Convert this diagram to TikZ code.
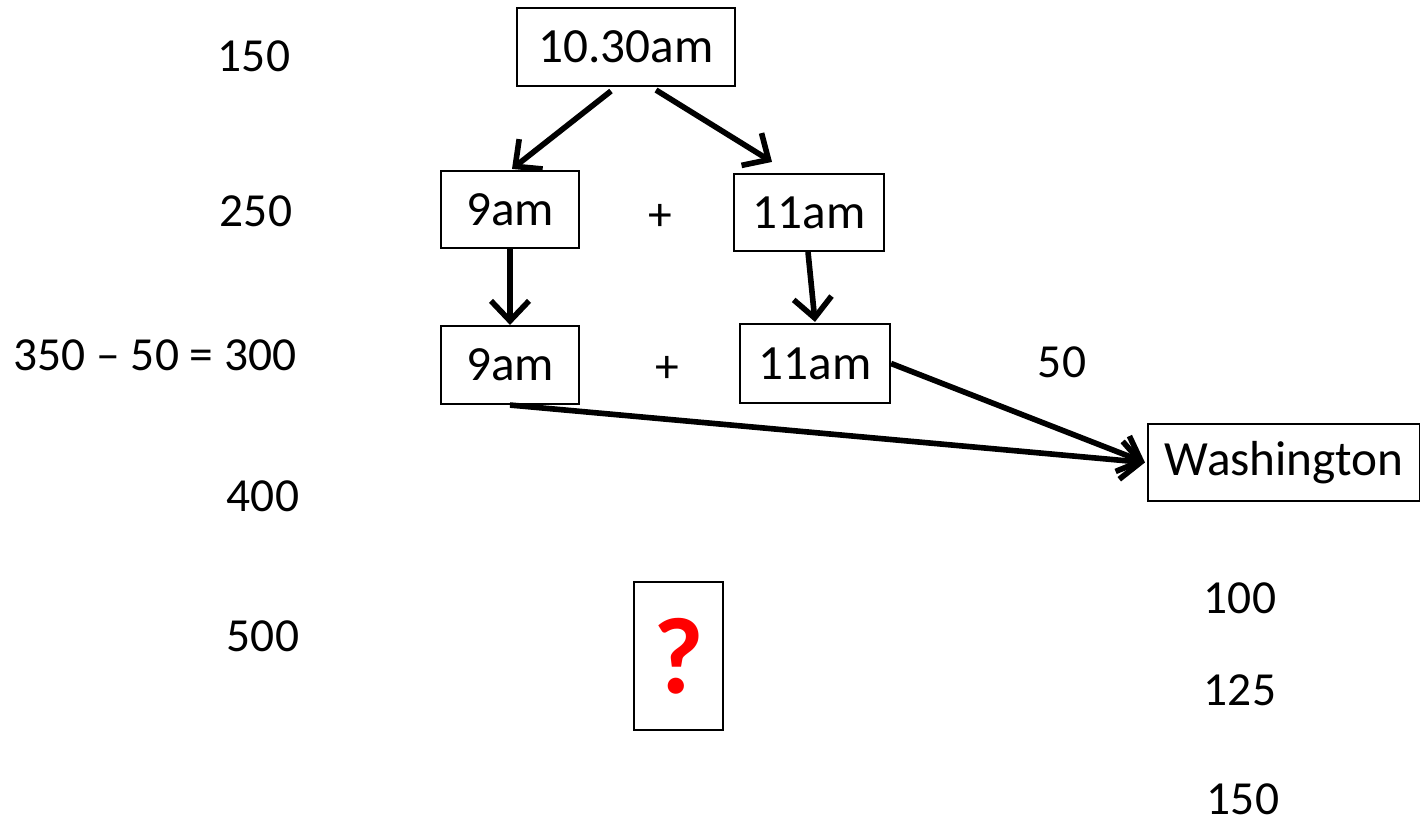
\documentclass[tikz,border=0pt]{standalone}
\usepackage{fontspec}
\setmainfont{Carlito}
\usepackage{tikz}
\usetikzlibrary{arrows.meta}

\begin{document}
\begin{tikzpicture}[
        timebox/.style={draw, line width=0.6pt, inner sep=0pt, font=\fontsize{14}{17}\selectfont},
        sidenum/.style={font=\fontsize{13.5}{16}\selectfont, inner sep=0pt},
        link/.style={line width=1.6pt, -{Straight Barb[length=2mm,width=3.8mm,line width=1.6pt]}}
    ]
        \useasboundingbox (0,0) rectangle (14.2,-8.21);

        % time boxes
        \node[timebox, minimum width=2.18cm, minimum height=0.78cm] (top) at (6.26,-0.47) {10.30am};
        \node[timebox, minimum width=1.38cm, minimum height=0.77cm] (nineA) at (5.10,-2.095) {9am};
        \node[timebox, minimum width=1.50cm, minimum height=0.77cm] (elevenA) at (8.09,-2.125) {11am};
        \node[timebox, minimum width=1.38cm, minimum height=0.78cm] (nineB) at (5.10,-3.65) {9am};
        \node[timebox, minimum width=1.50cm, minimum height=0.79cm] (elevenB) at (8.15,-3.635) {11am};
        \node[timebox, minimum width=2.72cm, minimum height=0.77cm] (wash) at (12.84,-4.625) {Washington};
        \node[draw, line width=0.6pt, minimum width=0.89cm, minimum height=1.48cm, inner sep=0pt,
              text=red, font=\fontsize{31}{36}\selectfont\bfseries] (qbox) at (6.785,-6.56) {?};

        \node[sidenum] (plusA) at (6.60,-2.17) {+};
        \node[sidenum] (plusB) at (6.67,-3.69) {+};

        % numbers on the left
        \node[sidenum] (nA) at (2.54,-0.56) {150};
        \node[sidenum] (nB) at (2.56,-2.11) {250};
        \node[sidenum] (nC) at (1.55,-3.55) {350 – 50 = 300};
        \node[sidenum] (nD) at (2.63,-4.96) {400};
        \node[sidenum] (nE) at (2.63,-6.36) {500};

        % numbers on the right
        \node[sidenum] (rA) at (10.62,-3.62) {50};
        \node[sidenum] (rB) at (12.40,-5.98) {100};
        \node[sidenum] (rC) at (12.40,-6.90) {125};
        \node[sidenum] (rD) at (12.43,-7.99) {150};

        % arrows
        \draw[link] ([xshift=-0.15cm,yshift=-0.04cm]top.south) -- ([xshift=0.02cm,yshift=0.01cm]nineA.north);
        \draw[link] ([xshift=0.30cm,yshift=-0.03cm]top.south) -- ([xshift=-0.37cm,yshift=0.11cm]elevenA.north);
        \draw[link] (nineA.south) -- (nineB.north);
        \draw[link] ([xshift=-0.01cm]elevenA.south) -- ([yshift=0.01cm]elevenB.north);
        \draw[link] (elevenB.east) -- ([xshift=-0.02cm]wash.west);
        \draw[link] (nineB.south) -- ([xshift=-0.02cm]wash.west);
    \end{tikzpicture}
\end{document}
